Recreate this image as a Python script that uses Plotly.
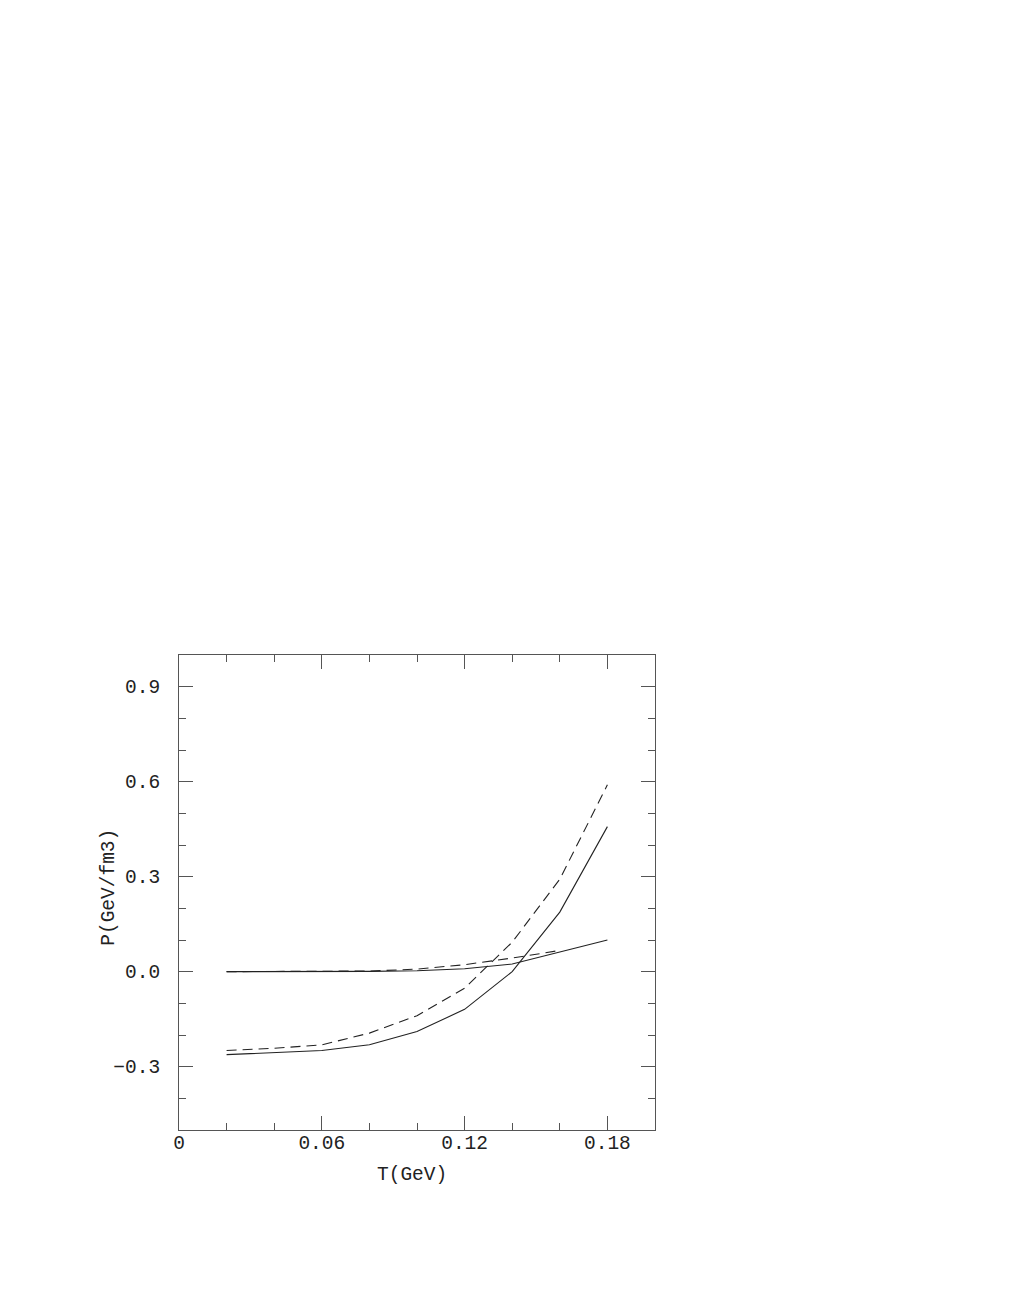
import plotly.graph_objects as go

# temperature grid (GeV)
T = [0.02, 0.04, 0.06, 0.08, 0.10, 0.12, 0.14, 0.16, 0.18]
T_short = [0.02, 0.04, 0.06, 0.08, 0.10, 0.12, 0.14, 0.16]

# pressure curves (GeV/fm3)
p_solid_low = [-0.262, -0.256, -0.249, -0.231, -0.189, -0.119, 0.000, 0.188, 0.458]
p_dash_low = [-0.249, -0.242, -0.231, -0.194, -0.139, -0.052, 0.093, 0.292, 0.590]
p_solid_up = [0.000, 0.000, 0.000, 0.001, 0.003, 0.009, 0.024, 0.061, 0.100]
p_dash_up = [0.000, 0.000, 0.000, 0.002, 0.008, 0.022, 0.043, 0.067]

x_tickvals = [0, 0.06, 0.12, 0.18]
x_ticktext = ["0", "0.06", "0.12", "0.18"]
y_tickvals = [0.9, 0.6, 0.3, 0.0, -0.3]
y_ticktext = ["0.9", "0.6", "0.3", "0.0", "\u22120.3"]

ink = "#222222"
frame = "#555555"
font = dict(family="Liberation Mono, Courier New, monospace", size=19.5, color="#222222")

fig = go.Figure()

fig.add_trace(go.Scatter(x=T, y=p_solid_low, mode="lines",
                         line=dict(color=ink, width=1.1)))
fig.add_trace(go.Scatter(x=T, y=p_dash_low, mode="lines",
                         line=dict(color=ink, width=1.1, dash="10px,6px")))
fig.add_trace(go.Scatter(x=T, y=p_solid_up, mode="lines",
                         line=dict(color=ink, width=1.1)))
fig.add_trace(go.Scatter(x=T_short, y=p_dash_up, mode="lines",
                         line=dict(color=ink, width=1.1, dash="10px,6px")))

fig.update_layout(
    width=1011, height=1308,
    margin=dict(l=171, r=364, t=647, b=186),
    paper_bgcolor="white", plot_bgcolor="white",
    showlegend=False,
    font=font,
    xaxis=dict(
        range=[0, 0.2], showgrid=False, zeroline=False,
        tickvals=x_tickvals, ticktext=x_ticktext,
        ticks="inside", ticklen=14, tickcolor=frame, tickwidth=1,
        minor=dict(dtick=0.02, tick0=0, ticks="inside", ticklen=7,
                   tickcolor=frame, tickwidth=1, showgrid=False),
        showline=True, linecolor=frame, linewidth=1, mirror="allticks",
        ticklabelstandoff=-5,
    ),
    yaxis=dict(
        range=[-0.5, 1.0], showgrid=False, zeroline=False,
        tickvals=y_tickvals, ticktext=y_ticktext,
        ticks="inside", ticklen=14, tickcolor=frame, tickwidth=1,
        minor=dict(dtick=0.1, tick0=0, ticks="inside", ticklen=7,
                   tickcolor=frame, tickwidth=1, showgrid=False),
        showline=True, linecolor=frame, linewidth=1, mirror="allticks",
        ticklabelstandoff=14,
    ),
    annotations=[
        dict(text="T(GeV)", showarrow=False,
             xref="paper", yref="paper", x=0.4895, y=-0.0945,
             xanchor="center", yanchor="middle", font=font),
        dict(text="P(GeV/fm3)", textangle=-90, showarrow=False,
             xref="paper", yref="paper", x=-0.147, y=0.51,
             xanchor="center", yanchor="middle", font=font),
    ],
)

fig.write_html("out.html")
